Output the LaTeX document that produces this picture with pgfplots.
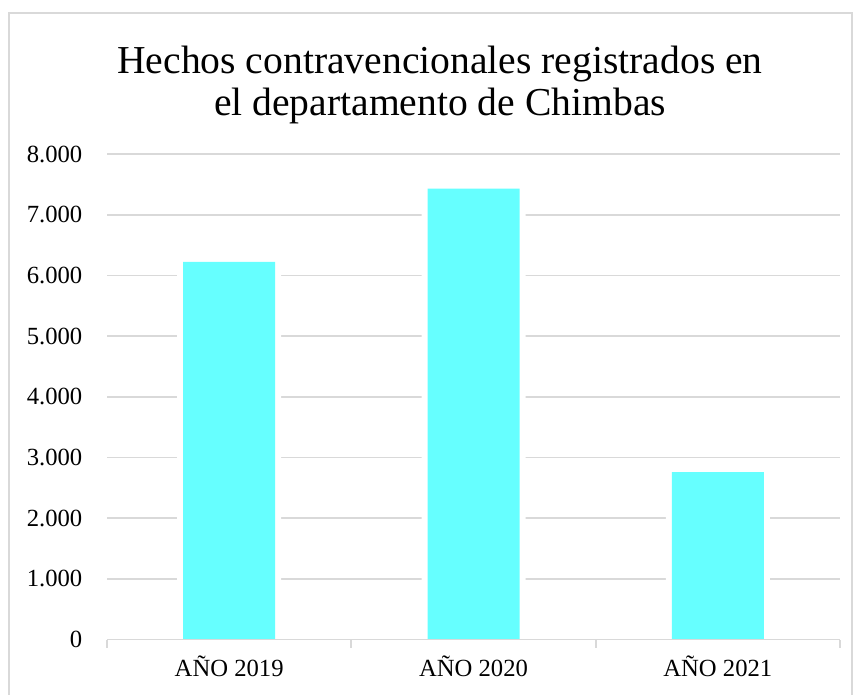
\documentclass[border=0pt]{standalone}
\usepackage{fontspec}
\setmainfont{Liberation Serif}
\usepackage{pgfplots}
\pgfplotsset{compat=1.18}
\definecolor{barc}{HTML}{66FFFF}
\definecolor{gridc}{HTML}{D9D9D9}
\begin{document}
\begin{tikzpicture}[x=0.75pt,y=0.75pt]
\useasboundingbox (0,0) rectangle (856,694);
\draw[gridc, line width=1.1pt] (9,-10) -- (9,681) -- (852,681) -- (852,-10);
\node[anchor=base, font=\fontsize{29.7}{34}\selectfont] at (440,620.5) {Hechos contravencionales registrados en};
\node[anchor=base, font=\fontsize{29.7}{34}\selectfont] at (440,578) {el departamento de Chimbas};
\begin{axis}[
  at={(80.25pt,40.875pt)}, anchor=south west,
  scale only axis, width=549.75pt, height=364.1pt,
  xmin=-0.5, xmax=2.5, ymin=0, ymax=8000,
  xtick={0,1,2}, xticklabels={AÑO 2019,AÑO 2020,AÑO 2021},
  ytick={0,1000,...,8000},
  xtick pos=bottom, ytick pos=left,
  major tick length=0pt,
  extra x ticks={-0.5,0.5,1.5,2.5}, extra x tick labels={},
  extra x tick style={major tick length=6pt, tick align=outside,
     tick style={gridc, line width=1.3pt}},
  ymajorgrids, grid style={gridc, line width=1.3pt},
  axis line style={draw=none},
  /pgf/number format/assume math mode=true,
  /pgf/number format/1000 sep={.},
  ticklabel style={font=\fontsize{18.5}{20}\selectfont, text=black},
  yticklabel style={xshift=-15pt},
  xticklabel style={yshift=-9pt},
]
\addplot[ybar, bar shift=0pt, bar width=78pt, fill=white, draw=none]
  coordinates {(0,6222) (1,7431) (2,2760)};
\addplot[ybar, bar shift=0pt, bar width=69pt, fill=barc, draw=none]
  coordinates {(0,6222) (1,7431) (2,2760)};
\draw[gridc, line width=1.3pt] (axis cs:-0.5,0) -- (axis cs:2.5,0);
\end{axis}
\end{tikzpicture}
\end{document}
